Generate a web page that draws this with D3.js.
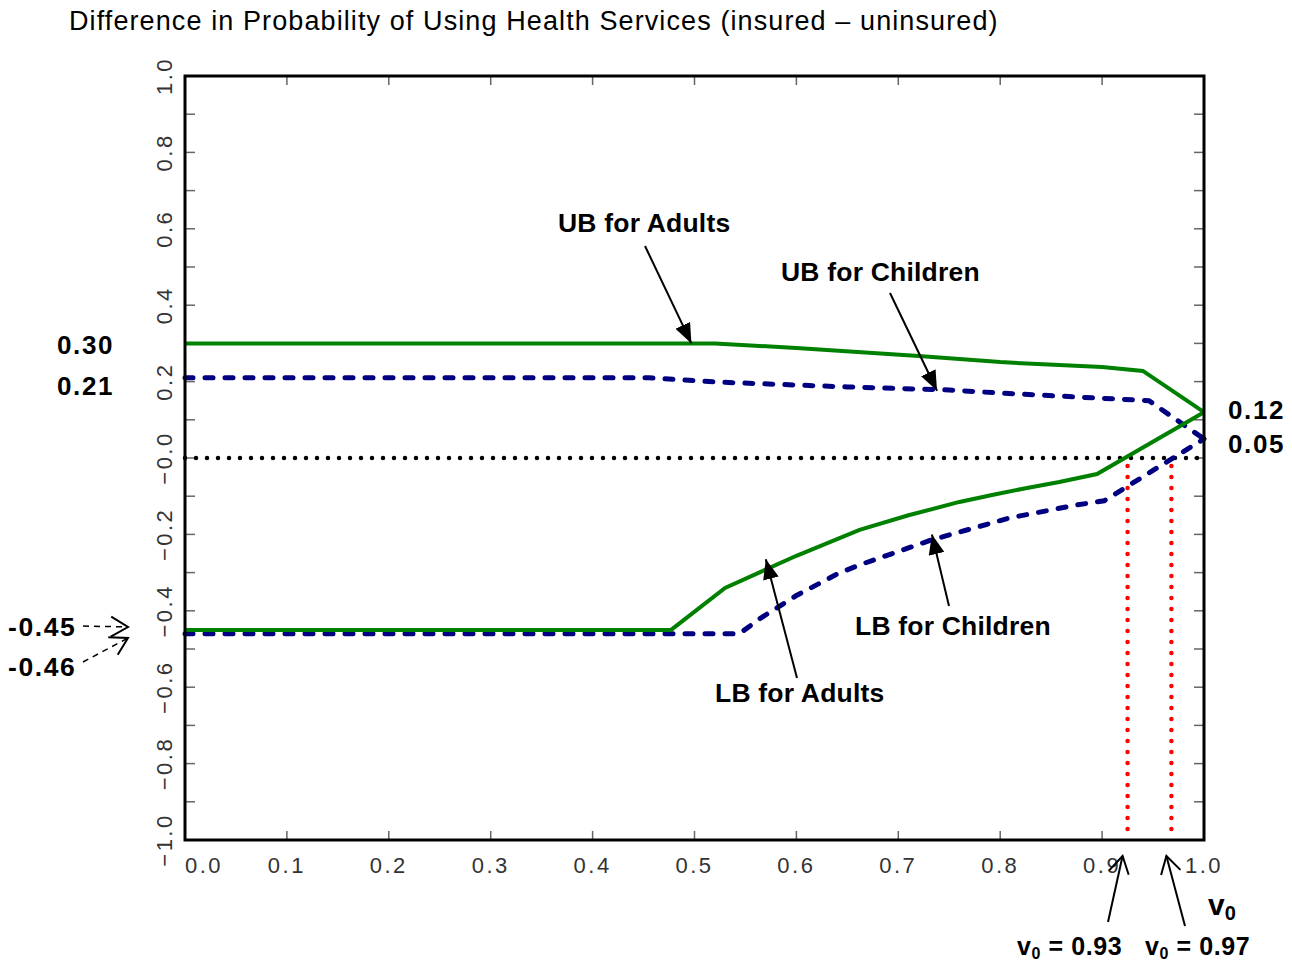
<!DOCTYPE html>
<html>
<head>
<meta charset="utf-8">
<script src="https://cdn.jsdelivr.net/npm/d3@7"></script>
<style>
  body { margin: 0; background: #fff; }
  svg { display: block; }
  .tick-lbl { font-family: "Liberation Sans", Arial, sans-serif; font-size: 22px; letter-spacing: 2.5px; fill: #333; }
  .bold { font-family: "Liberation Sans", Arial, sans-serif; font-weight: bold; fill: #000; }
</style>
</head>
<body>
<div id="chart"></div>
<script>
// ---- data ----
const ubAdultsV   = [0, 0.52, 0.6, 0.72, 0.8, 0.9, 0.94, 1.0];
const ubAdults    = [0.30, 0.30, 0.288, 0.267, 0.251, 0.238, 0.228, 0.12];

const ubChildrenV = [0, 0.455, 0.52, 0.65, 0.75, 0.8, 0.946, 1.0];
const ubChildren  = [0.21, 0.21, 0.199, 0.186, 0.178, 0.170, 0.15, 0.05];

const lbAdultsV   = [0, 0.477, 0.53, 0.565, 0.6, 0.662, 0.71, 0.76, 0.792, 0.825, 0.858, 0.895, 1.0];
const lbAdults    = [-0.45, -0.45, -0.34, -0.298, -0.256, -0.188, -0.15, -0.115, -0.097, -0.079, -0.063, -0.042, 0.12];

const lbChildrenV = [0, 0.544, 0.565, 0.6, 0.642, 0.662, 0.732, 0.809, 0.875, 0.902, 1.0];
const lbChildren  = [-0.46, -0.46, -0.419, -0.36, -0.301, -0.28, -0.215, -0.157, -0.123, -0.112, 0.05];

const cutoffs     = [0.925, 0.968];
const cutoffLbls  = ["0.93", "0.97"];

const xTicks = [0, 0.1, 0.2, 0.3, 0.4, 0.5, 0.6, 0.7, 0.8, 0.9, 1.0];
const yTicks = [1.0, 0.8, 0.6, 0.4, 0.2, 0.0, -0.2, -0.4, -0.6, -0.8, -1.0];
const yTickLbls = ["1.0", "0.8", "0.6", "0.4", "0.2", "\u22120.0", "\u22120.2", "\u22120.4", "\u22120.6", "\u22120.8", "\u22121.0"];

// ---- layout ----
const W = 1292, H = 966;
const pLeft = 185, pRight = 1204, pTop = 76, pBottom = 840;

const svg = d3.select('#chart').append('svg')
  .attr('width', W).attr('height', H);

const defs = svg.append('defs');
defs.append('marker')
  .attr('id', 'solidHead')
  .attr('viewBox', '0 0 20 16')
  .attr('refX', 20).attr('refY', 8)
  .attr('markerWidth', 20).attr('markerHeight', 16)
  .attr('markerUnits', 'userSpaceOnUse')
  .attr('orient', 'auto')
  .append('path').attr('d', 'M0,0 L20,8 L0,16 Z').attr('fill', '#000');
defs.append('marker')
  .attr('id', 'openHead')
  .attr('viewBox', '0 0 20 24')
  .attr('refX', 18).attr('refY', 12)
  .attr('markerWidth', 20).attr('markerHeight', 24)
  .attr('markerUnits', 'userSpaceOnUse')
  .attr('orient', 'auto')
  .append('path').attr('d', 'M1,2 L18,12 L1,22').attr('fill', 'none')
  .attr('stroke', '#000').attr('stroke-width', 2);

const x = d3.scaleLinear().domain([0, 1]).range([pLeft, pRight]);
const y = d3.scaleLinear().domain([-1, 1]).range([pBottom, pTop]);

// title
svg.append('text')
  .attr('x', 69).attr('y', 30)
  .attr('font-family', '"Liberation Sans", Arial, sans-serif')
  .attr('font-size', 27)
  .attr('letter-spacing', 1.1)
  .text('Difference in Probability of Using Health Services (insured \u2013 uninsured)');

// ticks inside the frame, all four sides
const minorX = d3.range(0, 1.0001, 0.1);
const minorY = d3.range(-1, 1.0001, 0.1);
const tickG = svg.append('g').attr('stroke', '#666').attr('stroke-width', 1.5);
tickG.selectAll('.tb').data(minorX).join('line')
  .attr('x1', d => x(d)).attr('x2', d => x(d))
  .attr('y1', pBottom).attr('y2', pBottom - 9);
tickG.selectAll('.tt').data(minorX).join('line')
  .attr('x1', d => x(d)).attr('x2', d => x(d))
  .attr('y1', pTop).attr('y2', pTop + 9);
tickG.selectAll('.tl').data(minorY).join('line')
  .attr('y1', d => y(d)).attr('y2', d => y(d))
  .attr('x1', pLeft).attr('x2', pLeft + 10);
tickG.selectAll('.tr').data(minorY).join('line')
  .attr('y1', d => y(d)).attr('y2', d => y(d))
  .attr('x1', pRight).attr('x2', pRight - 10);

// x tick labels
svg.selectAll('.xl').data(xTicks).join('text')
  .attr('class', 'tick-lbl')
  .attr('x', d => x(d))
  .attr('y', 873)
  .attr('text-anchor', (d, i) => i === 0 ? 'start' : 'middle')
  .text(d => d3.format('.1f')(d));

// y tick labels (rotated)
svg.selectAll('.yl').data(yTicks).join('text')
  .attr('class', 'tick-lbl')
  .attr('transform', d => `translate(172,${y(d)}) rotate(-90)`)
  .attr('text-anchor', 'middle')
  .text((d, i) => yTickLbls[i]);

// zero line
svg.append('line')
  .attr('x1', x(0)).attr('x2', x(1))
  .attr('y1', y(0)).attr('y2', y(0))
  .attr('stroke', '#000').attr('stroke-width', 4.5)
  .attr('stroke-linecap', 'round').attr('stroke-dasharray', '0 11');

// cutoff lines
svg.selectAll('.cut').data(cutoffs).join('line')
  .attr('x1', d => x(d)).attr('x2', d => x(d))
  .attr('y1', y(0) + 8).attr('y2', pBottom)
  .attr('stroke', '#ff0000').attr('stroke-width', 4.5)
  .attr('stroke-linecap', 'round').attr('stroke-dasharray', '0 11');

// curves
const line = d3.line().x(d => x(d[0])).y(d => y(d[1]));
const zip = (a, b) => a.map((v, i) => [v, b[i]]);

svg.append('path').datum(zip(ubChildrenV, ubChildren))
  .attr('d', line).attr('fill', 'none')
  .attr('stroke', '#000080').attr('stroke-width', 5)
  .attr('stroke-linecap', 'round').attr('stroke-dasharray', '8 12');
svg.append('path').datum(zip(lbChildrenV, lbChildren))
  .attr('d', line).attr('fill', 'none')
  .attr('stroke', '#000080').attr('stroke-width', 5)
  .attr('stroke-linecap', 'round').attr('stroke-dasharray', '8 12');
svg.append('path').datum(zip(ubAdultsV, ubAdults))
  .attr('d', line).attr('fill', 'none')
  .attr('stroke', '#008000').attr('stroke-width', 4);
svg.append('path').datum(zip(lbAdultsV, lbAdults))
  .attr('d', line).attr('fill', 'none')
  .attr('stroke', '#008000').attr('stroke-width', 4);

// frame
svg.append('rect')
  .attr('x', pLeft).attr('y', pTop)
  .attr('width', pRight - pLeft).attr('height', pBottom - pTop)
  .attr('fill', 'none').attr('stroke', '#000').attr('stroke-width', 3);

// curve labels with filled arrows
const curveNotes = [
  { text: 'UB for Adults',   tx: 558, ty: 232, from: [645, 246], to: [0.497, 0.30] },
  { text: 'UB for Children', tx: 781, ty: 281, from: [890, 293], to: [0.738, 0.176] },
  { text: 'LB for Children', tx: 855, ty: 635, from: [949, 606], to: [0.733, -0.20] },
  { text: 'LB for Adults',   tx: 715, ty: 702, from: [797, 678], to: [0.570, -0.265] }
];
curveNotes.forEach(n => {
  svg.append('text').attr('class', 'bold')
    .attr('x', n.tx).attr('y', n.ty).attr('font-size', 26.5)
    .attr('letter-spacing', 0.2).text(n.text);
  svg.append('line')
    .attr('x1', n.from[0]).attr('y1', n.from[1])
    .attr('x2', x(n.to[0])).attr('y2', y(n.to[1]))
    .attr('stroke', '#000').attr('stroke-width', 2)
    .attr('marker-end', 'url(#solidHead)');
});

// value labels at the ends
const endLbls = [
  { t: '0.30', x: 57, y: 354, s: 26 },
  { t: '0.21', x: 57, y: 395, s: 26 },
  { t: '0.12', x: 1228, y: 419, s: 26 },
  { t: '0.05', x: 1228, y: 453, s: 26 },
  { t: '-0.45', x: 8, y: 636, s: 26.5 },
  { t: '-0.46', x: 8, y: 676, s: 26.5 }
];
svg.selectAll('.endl').data(endLbls).join('text')
  .attr('class', 'bold')
  .attr('x', d => d.x).attr('y', d => d.y)
  .attr('font-size', d => d.s)
  .attr('letter-spacing', 1.6)
  .text(d => d.t);

// dashed open arrows for the left values
[[[83, 626], [128, 627]], [[83, 662], [128, 638]]].forEach(p => {
  svg.append('line')
    .attr('x1', p[0][0]).attr('y1', p[0][1])
    .attr('x2', p[1][0]).attr('y2', p[1][1])
    .attr('stroke', '#000').attr('stroke-width', 1.5)
    .attr('stroke-dasharray', '6 5')
    .attr('marker-end', 'url(#openHead)');
});

// v0 axis label
const v0 = svg.append('text').attr('class', 'bold')
  .attr('x', 1208).attr('y', 915).attr('font-size', 30);
v0.append('tspan').text('v');
v0.append('tspan').attr('font-size', 20).attr('dy', 5).text('0');

// cutoff labels with open arrows
const cutNotes = [
  { tx: 1017, from: [1108, 922] },
  { tx: 1145, from: [1185, 926] }
];
cutNotes.forEach((c, i) => {
  const t = svg.append('text').attr('class', 'bold')
    .attr('x', c.tx).attr('y', 955).attr('font-size', 25)
    .attr('letter-spacing', 0.6);
  t.append('tspan').text('v');
  t.append('tspan').attr('font-size', 16).attr('dy', 4).text('0');
  t.append('tspan').attr('dy', -4).text(' = ' + cutoffLbls[i]);
  svg.append('line')
    .attr('x1', c.from[0]).attr('y1', c.from[1])
    .attr('x2', x(cutoffs[i]) - 5).attr('y2', pBottom + 16)
    .attr('stroke', '#000').attr('stroke-width', 2)
    .attr('marker-end', 'url(#openHead)');
});
</script>
</body>
</html>
